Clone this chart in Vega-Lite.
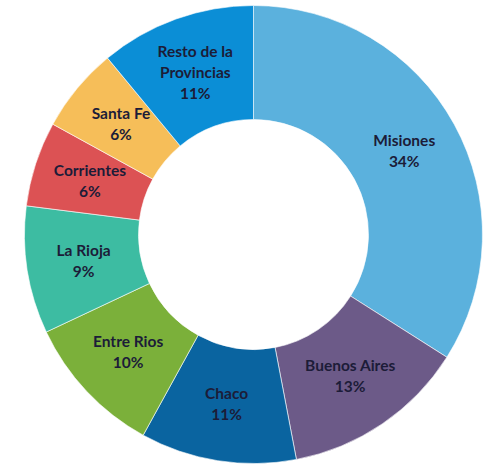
{
  "$schema": "https://vega.github.io/schema/vega-lite/v6.json",
  "width": 507,
  "height": 469,
  "padding": 0,
  "autosize": "none",
  "background": "white",
  "config": {"view": {"stroke": null}},
  "data": {
    "values": [
      {"region": "Misiones", "pct": 34, "idx": 1, "lines": 2, "label": "Misiones\n34%"},
      {"region": "Buenos Aires", "pct": 13, "idx": 2, "lines": 2, "label": "Buenos Aires\n13%"},
      {"region": "Chaco", "pct": 11, "idx": 3, "lines": 2, "label": "Chaco\n11%"},
      {"region": "Entre Rios", "pct": 10, "idx": 4, "lines": 2, "label": "Entre Rios\n10%"},
      {"region": "La Rioja", "pct": 9, "idx": 5, "lines": 2, "label": "La Rioja\n9%"},
      {"region": "Corrientes", "pct": 6, "idx": 6, "lines": 2, "label": "Corrientes\n6%"},
      {"region": "Santa Fe", "pct": 6, "idx": 7, "lines": 2, "label": "Santa Fe\n6%"},
      {"region": "Resto de la Provincias", "pct": 11, "idx": 8, "lines": 3, "label": "Resto de la\nProvincias\n11%"}
    ]
  },
  "encoding": {
    "theta": {"field": "pct", "type": "quantitative", "stack": true},
    "order": {"field": "idx", "type": "quantitative", "sort": "ascending"}
  },
  "layer": [
    {
      "mark": {"type": "arc", "innerRadius": 115, "outerRadius": 229, "stroke": "white", "strokeWidth": 0.6},
      "encoding": {
        "color": {
          "field": "region",
          "type": "nominal",
          "legend": null,
          "scale": {
            "domain": ["Misiones", "Buenos Aires", "Chaco", "Entre Rios", "La Rioja", "Corrientes", "Santa Fe", "Resto de la Provincias"],
            "range": ["#5BB1DD", "#6C5A88", "#0A64A0", "#7BB03A", "#3DBCA2", "#DC5254", "#F6BE59", "#0B8ED6"]
          }
        }
      }
    },
    {
      "mark": {"type": "text", "radius": 172, "dy": -10.5, "font": "Lato", "fontWeight": "bold", "fontSize": 15.5, "lineBreak": "\n", "lineHeight": 21, "align": "center", "baseline": "middle", "fill": "#1c1c38"},
      "encoding": {
        "text": {"field": "label", "type": "nominal"},
        "opacity": {"condition": {"test": "datum.lines == 2", "value": 1}, "value": 0}
      }
    },
    {
      "mark": {"type": "text", "radius": 172, "dy": -21, "font": "Lato", "fontWeight": "bold", "fontSize": 15.5, "lineBreak": "\n", "lineHeight": 21, "align": "center", "baseline": "middle", "fill": "#1c1c38"},
      "encoding": {
        "text": {"field": "label", "type": "nominal"},
        "opacity": {"condition": {"test": "datum.lines == 3", "value": 1}, "value": 0}
      }
    }
  ]
}
